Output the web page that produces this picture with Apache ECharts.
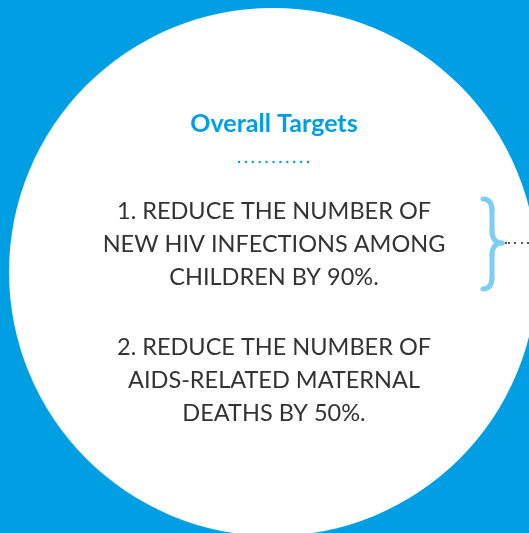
<!DOCTYPE html>
<html><head><meta charset="utf-8">
<script src="https://cdn.jsdelivr.net/npm/echarts@6/dist/echarts.min.js"></script>
<style>html,body{margin:0;padding:0;background:#009FE3}#c{width:529px;height:533px}</style>
</head><body><div id="c"></div>
<script>
var titleText = 'Overall Targets';
var target1Lines = ['1. REDUCE THE NUMBER OF', 'NEW HIV INFECTIONS AMONG', 'CHILDREN BY 90%.'];
var target2Lines = ['2. REDUCE THE NUMBER OF', 'AIDS-RELATED MATERNAL', 'DEATHS BY 50%.'];

var chart = echarts.init(document.getElementById('c'), null, {renderer: 'canvas'});
var blue = '#009FE3', light = '#7DCEF4', ink = '#333333';
var els = [];
els.push({type: 'rect', shape: {x: 0, y: 0, width: 529, height: 533}, style: {fill: blue}, z: 0});
els.push({type: 'circle', shape: {cx: 273, cy: 272, r: 264}, style: {fill: '#ffffff'}, z: 1});
els.push({type: 'text', x: 274, y: 124, style: {text: titleText, fill: blue, font: 'bold 25px Lato', align: 'center', verticalAlign: 'middle'}, z: 2});
for (var i = 0; i < 11; i++) {
  els.push({type: 'circle', shape: {cx: 239 + i * 6.9, cy: 162, r: 1.2}, style: {fill: blue}, z: 2});
}
function addLines(lines, y0) {
  lines.forEach(function (t, k) {
    els.push({type: 'text', x: 274, y: y0 + k * 33.3, style: {text: t, fill: ink, font: '400 23.5px Lato', align: 'center', verticalAlign: 'middle'}, z: 2});
  });
}
addLines(target1Lines, 211);
addLines(target2Lines, 347);
var bs = {stroke: light, lineWidth: 5, lineCap: 'round', fill: null};
els.push({type: 'bezierCurve', shape: {x1: 483, y1: 199, cpx1: 489, cpy1: 199, cpx2: 492, cpy2: 203, x2: 492, y2: 211}, style: bs, z: 2});
els.push({type: 'line', shape: {x1: 492, y1: 211, x2: 492, y2: 231}, style: bs, z: 2});
els.push({type: 'bezierCurve', shape: {x1: 492, y1: 231, cpx1: 492, cpy1: 239, cpx2: 496, cpy2: 243, x2: 502, y2: 243}, style: bs, z: 2});
els.push({type: 'bezierCurve', shape: {x1: 502, y1: 243, cpx1: 496, cpy1: 243, cpx2: 492, cpy2: 247, x2: 492, y2: 255}, style: bs, z: 2});
els.push({type: 'line', shape: {x1: 492, y1: 255, x2: 492, y2: 277}, style: bs, z: 2});
els.push({type: 'bezierCurve', shape: {x1: 492, y1: 277, cpx1: 492, cpy1: 285, cpx2: 489, cpy2: 289, x2: 483, y2: 289}, style: bs, z: 2});
[506, 509, 515, 522, 528].forEach(function (x) {
  els.push({type: 'circle', shape: {cx: x, cy: 243, r: 1.1}, style: {fill: '#333'}, z: 3});
});
chart.setOption({backgroundColor: blue, animation: false, graphic: {elements: els}});
</script></body></html>
